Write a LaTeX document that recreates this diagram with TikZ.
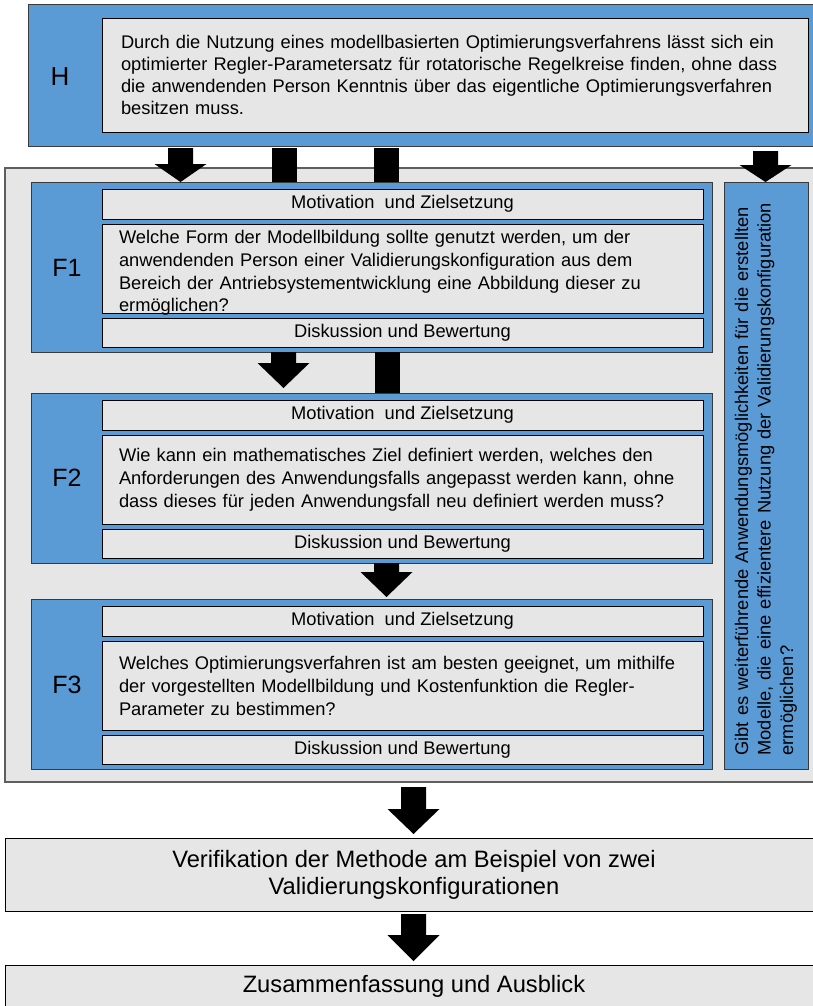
\documentclass[tikz,border=0pt]{standalone}
\usepackage{fontspec}
\setmainfont{Liberation Sans}
\usetikzlibrary{calc}
\definecolor{fblue}{HTML}{5B9BD5}
\definecolor{fgray}{HTML}{E7E6E6}
\definecolor{fedge}{HTML}{3A3A3A}
\definecolor{outeredge}{HTML}{5E5E5E}
% a justified line of a question text
\newcommand\jl[1]{\makebox[\linewidth][s]{#1}}
\newcommand\bodyfont{\fontsize{18.3}{23}\selectfont}
% block arrow: start, tip, head length
\newcommand\blockarrow[3]{\fill[blk] let \p1=(#1), \p2=(#2) in
  (\x1-12.5pt,\y1) -- (\x1+12.5pt,\y1) -- (\x1+12.5pt,\y2+#3) -- (\x1+26pt,\y2+#3)
  -- (\x1,\y2) -- (\x1-26pt,\y2+#3) -- (\x1-12.5pt,\y2+#3) -- cycle;}
% plain bar between two boxes
\newcommand\blockbar[2]{\fill[blk] let \p1=(#1), \p2=(#2) in
  (\x1-12.5pt,\y1) rectangle (\x1+12.5pt,\y2);}

\begin{document}
\begin{tikzpicture}[x=1pt,y=-1pt,
  every node/.style={inner sep=0pt, outer sep=0pt},
  panel/.style={fill=fblue, draw=fedge, line width=1pt, anchor=north west},
  cell/.style={fill=fgray, draw=black, line width=0.9pt, anchor=north west, font=\bodyfont},
  frame/.style={fill=fgray, draw=outeredge, line width=1.2pt, anchor=north west},
  qbox/.style={cell, minimum width=601pt, minimum height=89pt},
  question/.style={text width=567pt, align=left, font=\bodyfont},
  strip/.style={cell, minimum width=601pt, minimum height=#1},
  tag/.style={font=\fontsize{25}{30}\selectfont},
  bigtext/.style={font=\fontsize{23.7}{27}\selectfont, align=center},
  blk/.style={fill=black},
]
\useasboundingbox (0,0) rectangle (813,1006);

% outer frame around the research questions
\node[frame, minimum width=818pt, minimum height=614pt] (outer) at (5,168) {};

% hypothesis
\node[panel, minimum width=790pt, minimum height=141pt] (H) at (28,5) {};
\node[cell, text width=668pt, inner xsep=19pt, minimum height=114pt, align=left,
      font=\fontsize{18.3}{22}\selectfont] (Htext) at (102,18)
  {\jl{Durch die Nutzung eines modellbasierten Optimierungsverfahrens lässt sich ein}\\
   \jl{optimierter Regler-Parametersatz für rotatorische Regelkreise finden, ohne dass}\\
   \jl{die anwendenden Person Kenntnis über das eigentliche Optimierungsverfahren}\\
   besitzen muss.};
\node[font=\fontsize{26}{30}\selectfont] (Hlab) at (60,77) {H};

% F1
\node[panel, minimum width=681pt, minimum height=170pt] (F1) at (31,182) {};
\node[strip=30pt] (F1m) at (102,189) {Motivation\ \ und Zielsetzung};
\node[qbox] (F1q) at (102,224) {};
\node[question, font=\fontsize{18.3}{22.7}\selectfont] (F1qt) at ([yshift=-4.5pt]F1q.center)
  {\jl{Welche Form der Modellbildung sollte genutzt werden, um der}\\
   \jl{anwendenden Person einer Validierungskonfiguration aus dem}\\
   \jl{Bereich der Antriebsystementwicklung eine Abbildung dieser zu}\\
   ermöglichen?};
\node[strip=29pt] (F1d) at (102,318) {Diskussion und Bewertung};
\node[tag] (F1lab) at (67,268) {F1};

% F2
\node[panel, minimum width=681pt, minimum height=170pt] (F2) at (31,393) {};
\node[strip=30pt] (F2m) at (102,400) {Motivation\ \ und Zielsetzung};
\node[qbox] (F2q) at (102,435) {};
\node[question] (F2qt) at (F2q.center)
  {\jl{Wie kann ein mathematisches Ziel definiert werden, welches den}\\
   \jl{Anforderungen des Anwendungsfalls angepasst werden kann, ohne}\\
   dass dieses für jeden Anwendungsfall neu definiert werden muss?};
\node[strip=29pt] (F2d) at (102,529) {Diskussion und Bewertung};
\node[tag] (F2lab) at (67,478) {F2};

% F3
\node[panel, minimum width=681pt, minimum height=170pt] (F3) at (31,599) {};
\node[strip=30pt] (F3m) at (102,606) {Motivation\ \ und Zielsetzung};
\node[qbox] (F3q) at (102,641) {};
\node[question] (F3qt) at (F3q.center)
  {\jl{Welches Optimierungsverfahren ist am besten geeignet, um mithilfe}\\
   \jl{der vorgestellten Modellbildung und Kostenfunktion die Regler-}\\
   Parameter zu bestimmen?};
\node[strip=29pt] (F3d) at (102,735) {Diskussion und Bewertung};
\node[tag] (F3lab) at (67,685) {F3};

% side question
\node[panel, minimum width=84pt, minimum height=587pt] (R) at (724,182) {};
\node[rotate=90, text width=560pt, align=left, font=\fontsize{18.3}{22.5}\selectfont] (Rtext) at (R.center)
  {Gibt es weiterführende Anwendungsmöglichkeiten für die erstellten\\
   Modelle, die eine effizientere Nutzung der Validierungskonfiguration\\
   ermöglichen?};

% verification and summary
\node[cell, minimum width=818pt, minimum height=73pt, bigtext] (V) at (5,838)
  {Verifikation der Methode am Beispiel von zwei\\Validierungskonfigurationen};
\node[cell, minimum width=818pt, minimum height=50pt] (Z) at (5,965) {};
\node[bigtext] (Ztext) at (414,986) {Zusammenfassung und Ausblick};

% arrow columns
\coordinate (c1) at (180.5,0);
\coordinate (c2) at (284,0);
\coordinate (c3) at (386.5,0);
\coordinate (c4) at (765.5,0);
\coordinate (c5) at (283.5,0);
\coordinate (c6) at (387,0);
\coordinate (c7) at (386.5,0);
\coordinate (c8) at (413.5,0);

% connectors
\blockarrow{$(H.south -| c1)+(0,2)$}{F1.north -| c1}{18pt}
\blockbar{$(H.south -| c2)+(0,2)$}{F1.north -| c2}
\blockbar{$(H.south -| c3)+(0,2)$}{F1.north -| c3}
\blockarrow{$(H.south -| c4)+(0,5)$}{R.north -| c4}{17pt}
\blockarrow{F1.south -| c5}{$(F2.north -| c5)+(0,-5)$}{25pt}
\blockbar{F1.south -| c6}{F2.north -| c6}
\blockarrow{F2.south -| c7}{$(F3.north -| c7)+(0,-2)$}{25pt}
\blockarrow{$(outer.south -| c8)+(0,5)$}{$(V.north -| c8)+(0,-4)$}{25pt}
\blockarrow{$(V.south -| c8)+(0,3)$}{$(Z.north -| c8)+(0,-4)$}{26pt}
\end{tikzpicture}
\end{document}
